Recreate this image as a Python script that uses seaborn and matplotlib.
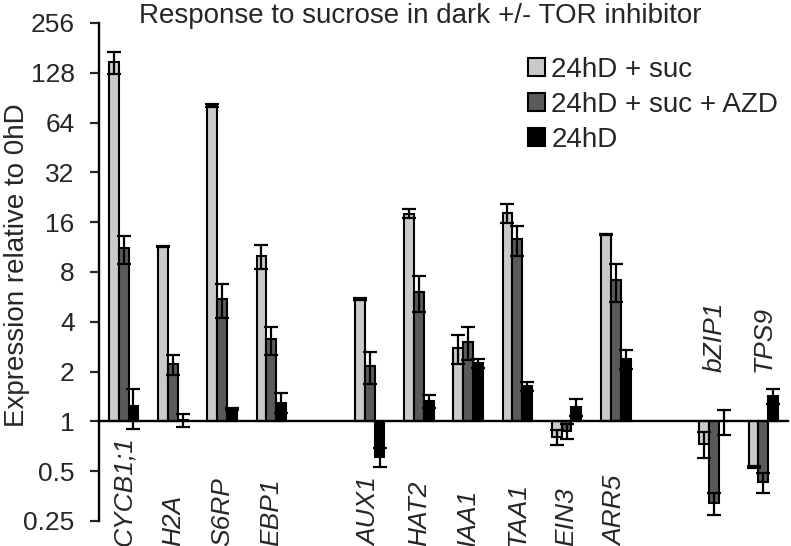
import numpy as np
import pandas as pd
import matplotlib
matplotlib.use("Agg")
import matplotlib.pyplot as plt
import seaborn as sns

# ---- data ----
genes = ["CYCB1;1", "H2A", "S6RP", "EBP1", "AUX1", "HAT2", "IAA1", "TAA1",
         "EIN3", "ARR5", "bZIP1", "TPS9"]
slot_order = ["CYCB1;1", "H2A", "S6RP", "EBP1", " ", "AUX1", "HAT2", "IAA1",
              "TAA1", "EIN3", "ARR5", "  ", "bZIP1", "TPS9"]
series = ["24hD + suc", "24hD + suc + AZD", "24hD"]

suc = [148, 11.4, 81, 10.0, 5.5, 18.0, 2.78, 18.2, 0.80, 13.5, 0.73, 0.53]
suc_err = [23, 0.15, 1.5, 1.65, 0.1, 1.1, 0.55, 2.4, 0.085, 0.15, 0.13, 0.01]
azd = [11.1, 2.22, 5.5, 3.13, 2.16, 6.07, 3.03, 12.6, 0.875, 7.15, 0.32, 0.43]
azd_err = [2.1, 0.3, 1.3, 0.6, 0.48, 1.5, 0.67, 2.6, 0.095, 1.85, 0.05, 0.06]
dark = [1.24, 1.02, 1.19, 1.30, 0.61, 1.33, 2.24, 1.63, 1.22, 2.38, 1.0, 1.43]
dark_err = [0.34, 0.09, 0.02, 0.18, 0.08, 0.12, 0.13, 0.1, 0.14, 0.32, 0.17, 0.15]

tick_values = [0.25, 0.5, 1, 2, 4, 8, 16, 32, 64, 128, 256]
tick_labels = ["0.25", "0.5", "1", "2", "4", "8", "16", "32", "64", "128", "256"]
label_above = ["bZIP1", "TPS9"]

colors = ["#cacaca", "#5a5a5a", "#000000"]

# ---- build table (log2 scale display, bars grow from 1) ----
rows = []
for s, vals, errs in zip(series, [suc, azd, dark], [suc_err, azd_err, dark_err]):
    for g, v, e in zip(genes, vals, errs):
        rows.append(dict(gene=g, series=s, log2v=np.log2(v),
                         lo=np.log2(v - e), hi=np.log2(v + e)))
df = pd.DataFrame(rows)

sns.set_style("white")
plt.rcParams["font.family"] = ["Liberation Sans", "DejaVu Sans"]

fig = plt.figure(figsize=(7.91, 5.46), dpi=100)
ax = fig.add_axes([0.1252, 0.0458, 0.871, 0.9121])

sns.barplot(data=df, x="gene", y="log2v", hue="series", order=slot_order,
            hue_order=series, palette=colors, width=0.6, errorbar=None,
            edgecolor="black", linewidth=1.5, saturation=1, ax=ax)

for cont, s in zip(ax.containers, series):
    sub = df[df.series == s].set_index("gene")
    for bar, g in zip(cont, genes):
        x = bar.get_x() + bar.get_width() / 2
        y = sub.loc[g, "log2v"]
        ax.errorbar(x, y, yerr=[[y - sub.loc[g, "lo"]], [sub.loc[g, "hi"] - y]],
                    fmt="none", ecolor="black", elinewidth=1.6, capsize=5,
                    capthick=1.6, zorder=5)

ax.set_xlim(-0.5, len(slot_order) - 0.5)
ax.set_ylim(np.log2(tick_values[0]), np.log2(tick_values[-1]))
ax.set_yticks(np.log2(tick_values))
ax.set_yticklabels(tick_labels, fontsize=19)
ax.tick_params(axis="y", direction="out", length=6.5, width=1.6, left=True, pad=11)
ax.tick_params(axis="x", length=0, labelbottom=False)
ax.set_xlabel("")
ax.set_ylabel("Expression relative to 0hD", fontsize=20)
ax.yaxis.set_label_coords(-0.1002, 0.514)

for sp in ["top", "right"]:
    ax.spines[sp].set_visible(False)
ax.spines["left"].set_linewidth(1.7)
ax.spines["bottom"].set_linewidth(1.7)
ax.spines["bottom"].set_position(("data", 0))
ax.spines["left"].set_color("black")
ax.spines["bottom"].set_color("black")

# gene labels
for g in genes:
    xi = slot_order.index(g)
    yy = 1.0 if g in label_above else -2.5
    ax.text(xi, yy, g, rotation=90, ha="center", va="bottom", fontsize=19,
            fontstyle="italic", clip_on=False)

handles, labels = ax.get_legend_handles_labels()
ax.legend(handles, labels, loc="upper left", bbox_to_anchor=(0.668, 0.896),
          bbox_transform=fig.transFigure, frameon=False, fontsize=20,
          handlelength=0.6, handleheight=0.6, handletextpad=0.22,
          labelspacing=0.32, borderpad=0, borderaxespad=0)

fig.text(0.531, 0.995, "Response to sucrose in dark +/- TOR inhibitor",
         ha="center", va="top", fontsize=20)

fig.savefig("out.png", dpi=100)
